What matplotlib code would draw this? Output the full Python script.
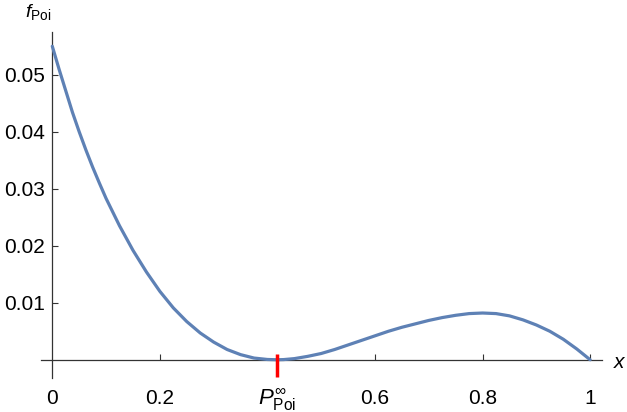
import numpy as np
import matplotlib
matplotlib.use('Agg')
import matplotlib.pyplot as plt

plt.rcParams['font.family'] = ['Liberation Sans', 'DejaVu Sans']
plt.rcParams['mathtext.fontset'] = 'custom'
plt.rcParams['mathtext.rm'] = 'Liberation Sans'
plt.rcParams['mathtext.it'] = 'Liberation Sans:italic'

# values
x_vals = [0.0, 0.0125, 0.025, 0.0375, 0.05, 0.0625, 0.075, 0.0875, 0.1, 0.125,
          0.15, 0.175, 0.2, 0.225, 0.25, 0.275, 0.3, 0.325, 0.35, 0.375,
          0.4, 0.418, 0.43, 0.45, 0.475, 0.5, 0.525, 0.55, 0.575, 0.6,
          0.625, 0.65, 0.675, 0.7, 0.725, 0.75, 0.775, 0.8, 0.825, 0.85,
          0.875, 0.9, 0.925, 0.95, 0.975, 1.0]
f_vals = [0.0550, 0.0510, 0.0472, 0.0434, 0.0400, 0.0368, 0.0338, 0.0310, 0.0283, 0.0235,
          0.0192, 0.0154, 0.0120, 0.0091, 0.0067, 0.0047, 0.0031, 0.0018, 0.0009, 0.0003,
          0.00005, 0.0, 0.00003, 0.0002, 0.0006, 0.0011, 0.0018, 0.0026, 0.0034, 0.0042,
          0.0050, 0.0057, 0.0063, 0.0069, 0.0074, 0.0078, 0.0081, 0.0082, 0.0081, 0.0077,
          0.0070, 0.0061, 0.0050, 0.0036, 0.0019, 0.0]

p_inf = 0.418
x_ticks = [0, 0.2, 0.6, 0.8, 1]
x_labels = ['0', '0.2', '0.6', '0.8', '1']
y_ticks = [0.01, 0.02, 0.03, 0.04, 0.05]
y_labels = ['0.01', '0.02', '0.03', '0.04', '0.05']

fig = plt.figure(figsize=(6.27, 4.12), dpi=100)
ax = fig.add_axes([41 / 627, 1 - 378 / 412, 561 / 627, 346 / 412])

ax.plot(x_vals, f_vals, color='#5E81B5', lw=2.3, solid_capstyle='round',
        solid_joinstyle='round', zorder=3)

ax.set_xlim(-0.021, 1.022)
ax.set_ylim(-0.0032, 0.0575)

for s in ['top', 'right']:
    ax.spines[s].set_visible(False)
ax.spines['left'].set_position(('data', 0))
ax.spines['bottom'].set_position(('data', 0))
for s in ['left', 'bottom']:
    ax.spines[s].set_color('#333333')
    ax.spines[s].set_linewidth(0.9)

ax.set_xticks(x_ticks)
ax.set_xticklabels(x_labels)
ax.set_yticks(y_ticks)
ax.set_yticklabels(y_labels)
ax.tick_params(axis='both', direction='in', length=4.5, width=0.8, color='#333333',
               labelsize=15)
ax.tick_params(axis='x', pad=21)
ax.tick_params(axis='y', pad=5)
# no tick mark at the origin
ax.xaxis.get_major_ticks()[0].tick1line.set_visible(False)

# red marker at P_Poi^inf
ax.plot([p_inf, p_inf], [0.001, -0.003], color='red', lw=2.5, solid_capstyle='butt',
        zorder=4, clip_on=False)
ax.text(p_inf, -0.0046, r'$P^{\infty}_{\mathrm{Poi}}$', fontsize=16, ha='center', va='top')

fig.text(38 / 627, 1 - 12 / 412, r'$f_{\mathrm{Poi}}$', fontsize=14, ha='center', va='center')
fig.text(620 / 627, 1 - 362 / 412, r'$x$', fontsize=15, ha='center', va='center')

fig.savefig('out.png', dpi=100)
